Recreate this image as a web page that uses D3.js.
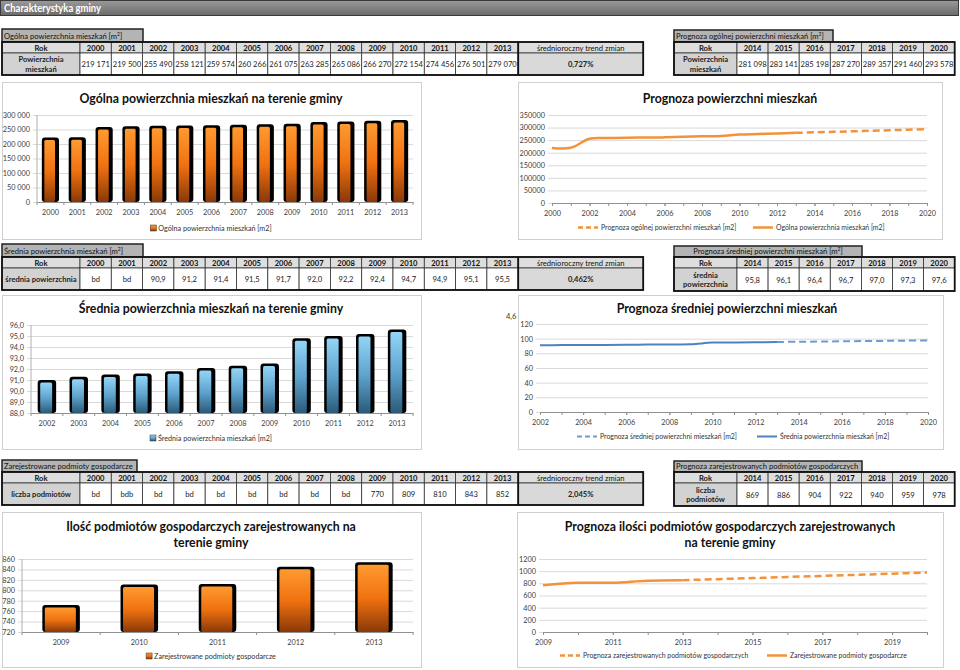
<!DOCTYPE html>
<html><head><meta charset="utf-8">
<script src="https://cdn.jsdelivr.net/npm/d3@7"></script>
<style>body{margin:0;background:#fff;} svg{display:block;font-family:Lato,'Open Sans',sans-serif;}</style>
</head><body><svg id="c" width="960" height="670"></svg>
<script>
// ---------- DATA ----------
const yearsHist = [2000,2001,2002,2003,2004,2005,2006,2007,2008,2009,2010,2011,2012,2013];
const yearsFc = [2014,2015,2016,2017,2018,2019,2020];
const areaVals = [219171,219500,255490,258121,259574,260266,261075,263285,265086,266270,272154,274456,276501,279070];
const areaFc = [281098,283141,285198,287270,289357,291460,293578];
const areaTrend = "0,727%";
const avgVals = ["bd","bd",90.9,91.2,91.4,91.5,91.7,92.0,92.2,92.4,94.7,94.9,95.1,95.5];
const avgFc = [95.8,96.1,96.4,96.7,97.0,97.3,97.6];
const avgTrend = "0,462%";
const firmVals = ["bd","bdb","bd","bd","bd","bd","bd","bd","bd",770,809,810,843,852];
const firmFc = [869,886,904,922,940,959,978];
const firmTrend = "2,045%";
const areaTicks = [0,50000,100000,150000,200000,250000,300000];
const areaTicks2 = [0,50000,100000,150000,200000,250000,300000,350000];
const avgTicks = [88,89,90,91,92,93,94,95,96];
const avgTicks2 = [0,20,40,60,80,100,120];
const firmTicks = [720,740,760,780,800,820,840,860];
const firmTicks2 = [0,200,400,600,800,1000,1200];

// ---------- HELPERS ----------
const FONT = "Lato,'Open Sans',sans-serif";
const svg = d3.select("#c");
const defs = svg.append("defs");
function grad(id, stops){
  const g = defs.append("linearGradient").attr("id",id).attr("x1",0).attr("x2",0).attr("y1",0).attr("y2",1);
  stops.forEach(s=>g.append("stop").attr("offset",s[0]).attr("stop-color",s[1]));
}
grad("gOr",[[0,"#ff9a30"],[0.5,"#f07210"],[1,"#8a3808"]]);
grad("gBl",[[0,"#92d5f6"],[0.5,"#5fa4cf"],[1,"#2b5a78"]]);
grad("gHead",[[0,"#9a9a9a"],[1,"#6a6a6a"]]);

const fmtSpace = d => d3.format(",")(d).replace(/,/g," ");
const fmtDec = d => d3.format(".1f")(d).replace(".",",");
const fmtPlain = d3.format("d");

// header bar
svg.append("rect").attr("x",0.5).attr("y",0.5).attr("width",958).attr("height",15).attr("fill","url(#gHead)").attr("stroke","#3a3a3a");
svg.append("text").attr("x",4).attr("y",12).attr("fill","#fff").attr("font-weight",700).attr("font-size",10.5)
  .attr("textLength",97).attr("lengthAdjust","spacingAndGlyphs").text("Charakterystyka gminy");

function drawTable(o){
  const g = svg.append("g");
  const fs = 7.6;
  g.append("rect").attr("x",o.x).attr("y",o.y).attr("width",o.titleW).attr("height",o.titleH)
    .attr("fill","#b4b4b4").attr("stroke","#222").attr("stroke-width",1.5);
  const t = g.append("text").attr("x",o.titleMid? o.x+o.titleW/2 : o.x+2).attr("y",o.y+o.titleH-3)
    .attr("text-anchor",o.titleMid?"middle":"start").attr("font-size",fs).attr("fill","#111").text(o.title);
  if(o.sup){
    t.append("tspan").text(" [m");
    t.append("tspan").attr("dy",-3).attr("font-size",5).text("2");
    t.append("tspan").attr("dy",3).text("]");
  }
  const y1 = o.y+o.titleH, y2 = y1+o.r1h, y3 = y2+o.r2h;
  const cols = [{x:o.x,w:o.labelW,h:"Rok",v:o.label,type:"label"}];
  o.years.forEach((yr,i)=>cols.push({x:o.x+o.labelW+i*o.colW,w:o.colW,h:String(yr),v:o.vals[i],type:"val"}));
  if(o.trend) cols.push({x:o.x+o.labelW+o.years.length*o.colW,w:o.trendW,h:"średnioroczny trend zmian",v:o.trend,type:"trend"});
  cols.forEach(c=>{
    g.append("rect").attr("x",c.x).attr("y",y1).attr("width",c.w).attr("height",o.r1h).attr("fill","#dedede").attr("stroke","#333").attr("stroke-width",0.8);
    g.append("rect").attr("x",c.x).attr("y",y2).attr("width",c.w).attr("height",o.r2h)
      .attr("fill",c.type==="val"?"#fff":(c.type==="label"?"#d2d2d2":"#d9d9d9")).attr("stroke","#333").attr("stroke-width",0.8);
    g.append("text").attr("x",c.x+c.w/2).attr("y",y1+o.r1h-2.5).attr("text-anchor","middle").attr("font-size",fs)
      .attr("font-weight",c.type==="trend"?400:700).attr("fill","#111").text(c.h);
    const lines = Array.isArray(c.v)?c.v:[c.v];
    lines.forEach((l,i)=>{
      g.append("text").attr("x",c.x+c.w/2).attr("y",y2+o.r2h/2+3+(i-(lines.length-1)/2)*9.5).attr("text-anchor","middle")
        .attr("font-size",fs).attr("font-weight",c.type==="val"?400:700).attr("fill","#222").text(l);
    });
  });
  const totalW = o.labelW+o.years.length*o.colW+(o.trend?o.trendW:0);
  g.append("rect").attr("x",o.x).attr("y",y1).attr("width",totalW).attr("height",y3-y1).attr("fill","none").attr("stroke","#111").attr("stroke-width",1.8);
  if(o.trend) g.append("line").attr("x1",o.x+totalW-o.trendW).attr("x2",o.x+totalW-o.trendW).attr("y1",y1).attr("y2",y3).attr("stroke","#111").attr("stroke-width",1.8);
}

function frame(x,y,w,h){
  svg.append("rect").attr("x",x+0.5).attr("y",y+0.5).attr("width",w).attr("height",h).attr("fill","#fff").attr("stroke","#cfcfcf");
}
function chartTitle(lines,cx,y){
  lines.forEach((l,i)=>svg.append("text").attr("x",cx).attr("y",y+i*16).attr("text-anchor","middle")
    .attr("font-size",12.3).attr("font-weight",700).attr("fill","#111").text(l));
}
function styleYAxis(g){
  g.select(".domain").remove();
  g.selectAll(".tick line").attr("stroke","#d9d9d9").attr("x1",-4);
  g.selectAll(".tick text").attr("font-size",7.3).attr("fill","#404040").attr("font-family",FONT).attr("x",-7);
}

function barChart(o){
  const x = d3.scaleBand().domain(o.cats).range([o.x0,o.x1]).paddingInner(o.pad).paddingOuter(o.pad/2);
  const y = d3.scaleLinear().domain([o.ticks[0],o.ticks[o.ticks.length-1]]).range([o.y1,o.y0]);
  const ga = svg.append("g").attr("transform",`translate(${o.x0},0)`)
    .call(d3.axisLeft(y).tickValues(o.ticks).tickSize(-(o.x1-o.x0)).tickFormat(o.fmt));
  styleYAxis(ga);
  svg.append("line").attr("x1",o.x0).attr("x2",o.x0).attr("y1",o.y0).attr("y2",o.y1).attr("stroke","#b0b0b0");
  const gx = svg.append("g").attr("transform",`translate(0,${o.y1})`).call(d3.axisBottom(x).tickSize(0).tickPadding(8));
  gx.select(".domain").attr("stroke","#909090");
  gx.selectAll(".tick text").attr("font-size",7.3).attr("fill","#404040").attr("font-family",FONT);
  svg.selectAll(null).data(d3.range(o.cats.length+1)).join("line")
    .attr("x1",i=>o.x0+i*(o.x1-o.x0)/o.cats.length).attr("x2",i=>o.x0+i*(o.x1-o.x0)/o.cats.length)
    .attr("y1",o.y1).attr("y2",o.y1+3).attr("stroke","#909090");
  const data = o.cats.map((c,i)=>({c,v:o.vals[i]}));
  const base = o.y1;
  svg.selectAll(null).data(data).join("rect")
    .attr("x",d=>x(d.c)).attr("y",d=>y(d.v)-1).attr("width",x.bandwidth()).attr("height",d=>base-y(d.v)+1)
    .attr("rx",3).attr("fill","#000");
  svg.selectAll(null).data(data).join("rect")
    .attr("x",d=>x(d.c)+2.5).attr("y",d=>y(d.v)+1.5).attr("width",x.bandwidth()-6.5).attr("height",d=>base-y(d.v)-1.5)
    .attr("rx",1.5).attr("fill",`url(#${o.grad})`);
  // legend
  const lg = svg.append("g");
  lg.append("rect").attr("x",0).attr("y",-6).attr("width",6).attr("height",6).attr("fill",`url(#${o.grad})`).attr("stroke","#333").attr("stroke-width",0.5);
  const lt = lg.append("text").attr("x",8).attr("y",0).attr("font-size",7.2).attr("fill","#333").text(o.legend);
  const w = 8+lt.node().getComputedTextLength();
  lg.attr("transform",`translate(${o.legCx-w/2},${o.legY})`);
}

function lineChart(o){
  const x = d3.scaleLinear().domain(o.xdom).range([o.x0,o.x1]);
  const y = d3.scaleLinear().domain([o.ticks[0],o.ticks[o.ticks.length-1]]).range([o.y1,o.y0]);
  const ga = svg.append("g").attr("transform",`translate(${o.x0},0)`)
    .call(d3.axisLeft(y).tickValues(o.ticks).tickSize(-(o.x1-o.x0)).tickFormat(fmtPlain));
  styleYAxis(ga);
  const minor = d3.range(o.xdom[0],o.xdom[1]+1);
  svg.append("g").attr("transform",`translate(0,${o.y1})`)
    .call(d3.axisBottom(x).tickValues(minor).tickSize(3).tickFormat(""))
    .call(g=>{g.select(".domain").attr("stroke","#909090");g.selectAll(".tick line").attr("stroke","#909090");});
  const gl = svg.append("g").attr("transform",`translate(0,${o.y1})`)
    .call(d3.axisBottom(x).tickValues(o.labels).tickSize(3).tickPadding(5).tickFormat(fmtPlain));
  gl.select(".domain").remove();
  gl.selectAll(".tick line").attr("stroke","#909090");
  gl.selectAll(".tick text").attr("font-size",7.3).attr("fill","#404040").attr("font-family",FONT);
  const line = d3.line().x(d=>x(d[0])).y(d=>y(d[1])).curve(d3.curveCatmullRom.alpha(0.5));
  svg.append("path").attr("d",line(o.fc)).attr("fill","none").attr("stroke",o.fcColor).attr("stroke-width",o.sw).attr("stroke-dasharray","7,4");
  svg.append("path").attr("d",line(o.hist)).attr("fill","none").attr("stroke",o.color).attr("stroke-width",o.sw);
  // legend
  svg.append("line").attr("x1",o.leg[0]).attr("x2",o.leg[0]+20).attr("y1",o.legY-2.5).attr("y2",o.legY-2.5).attr("stroke",o.fcColor).attr("stroke-width",o.sw).attr("stroke-dasharray","5,3");
  svg.append("text").attr("x",o.leg[0]+23).attr("y",o.legY).attr("font-size",6.9).attr("fill","#333").text(o.legTexts[0]);
  svg.append("line").attr("x1",o.leg[1]).attr("x2",o.leg[1]+20).attr("y1",o.legY-2.5).attr("y2",o.legY-2.5).attr("stroke",o.color).attr("stroke-width",o.sw);
  svg.append("text").attr("x",o.leg[1]+23).attr("y",o.legY).attr("font-size",6.9).attr("fill","#333").text(o.legTexts[1]);
}

// ---------- TABLES ----------
drawTable({x:2,y:29,titleW:141,titleH:13,title:"Ogólna powierzchnia mieszkań",sup:true,r1h:11,r2h:22,labelW:78,colW:31.3,trendW:125,
  years:yearsHist,vals:areaVals.map(fmtSpace),label:["Powierzchnia","mieszkań"],trend:areaTrend});
drawTable({x:674,y:30,titleW:159,titleH:12,title:"Prognoza ogólnej powierzchni mieszkań",sup:true,r1h:11,r2h:22,labelW:63,colW:31.1,
  years:yearsFc,vals:areaFc.map(fmtSpace),label:["Powierzchnia","mieszkań"]});
drawTable({x:2,y:244,titleW:141,titleH:13,title:"Średnia powierzchnia mieszkań ",sup:true,r1h:11,r2h:22,labelW:78,colW:31.3,trendW:125,
  years:yearsHist,vals:avgVals.map(v=>typeof v==="number"?fmtDec(v):v),label:["średnia powierzchnia"],trend:avgTrend});
drawTable({x:674,y:246,titleW:188,titleH:11,title:"Prognoza średniej powierzchni mieszkań ",sup:true,titleMid:true,r1h:11,r2h:23,labelW:63,colW:31.1,
  years:yearsFc,vals:avgFc.map(fmtDec),label:["średnia","powierzchnia"]});
drawTable({x:2,y:460,titleW:135,titleH:12,title:"Zarejestrowane podmioty gospodarcze",r1h:11,r2h:22,labelW:78,colW:31.3,trendW:125,
  years:yearsHist,vals:firmVals.map(String),label:["liczba podmiotów"],trend:firmTrend});
drawTable({x:674,y:461,titleW:188,titleH:11,title:"Prognoza zarejestrowanych podmiotów gospodarczych",r1h:11,r2h:23,labelW:63,colW:31.1,
  years:yearsFc,vals:firmFc.map(String),label:["liczba","podmiotów"]});

// ---------- CHARTS ----------
frame(2,82,419,157);
chartTitle(["Ogólna powierzchnia mieszkań na terenie gminy"],211,103);
barChart({cats:yearsHist,vals:areaVals,x0:37,x1:413,y0:115,y1:202,ticks:areaTicks,fmt:fmtSpace,pad:0.36,grad:"gOr",
  legend:"Ogólna powierzchnia mieszkań [m2]",legCx:211,legY:231});

frame(518,82,424,157);
chartTitle(["Prognoza powierzchni mieszkań"],730,103);
lineChart({xdom:[2000,2020],labels:d3.range(2000,2021,2),x0:552,x1:927,y0:115,y1:203,ticks:areaTicks2,
  hist:yearsHist.map((yr,i)=>[yr,areaVals[i]]),
  fc:[[2013,areaVals[13]]].concat(yearsFc.map((yr,i)=>[yr,areaFc[i]])),
  color:"#f3923a",fcColor:"#f3923a",sw:2.5,leg:[578,753],legY:230,
  legTexts:["Prognoza ogólnej powierzchni mieszkań [m2]","Ogólna powierzchnia mieszkań [m2]"]});

frame(2,295,419,154);
chartTitle(["Średnia powierzchnia mieszkań na terenie gminy"],211,313);
const avgCats = yearsHist.filter((y,i)=>typeof avgVals[i]==="number");
const avgNum = avgVals.filter(v=>typeof v==="number");
barChart({cats:avgCats,vals:avgNum,x0:31,x1:413,y0:325,y1:413,ticks:avgTicks,fmt:fmtDec,pad:0.42,grad:"gBl",
  legend:"Średnia powierzchnia mieszkań  [m2]",legCx:211,legY:441});

svg.append("text").attr("x",506).attr("y",319).attr("font-size",7.5).attr("fill","#333").text("4,6");
frame(518,295,425,154);
chartTitle(["Prognoza średniej powierzchni mieszkań"],727,313);
lineChart({xdom:[2002,2020],labels:d3.range(2002,2021,2),x0:540,x1:928,y0:324,y1:412,ticks:avgTicks2,
  hist:avgCats.map((yr,i)=>[yr,avgNum[i]]),
  fc:[[2013,avgNum[avgNum.length-1]]].concat(yearsFc.map((yr,i)=>[yr,avgFc[i]])),
  color:"#4f81bd",fcColor:"#6f9ad0",sw:2,leg:[577,757],legY:439,
  legTexts:["Prognoza średniej powierzchni mieszkań  [m2]","Średnia powierzchnia mieszkań  [m2]"]});

frame(2,512,419,155);
chartTitle(["Ilość podmiotów gospodarczych zarejestrowanych na","terenie gminy"],211,531);
const firmCats = yearsHist.filter((y,i)=>typeof firmVals[i]==="number");
const firmNum = firmVals.filter(v=>typeof v==="number");
barChart({cats:firmCats,vals:firmNum,x0:22,x1:413,y0:559,y1:632,ticks:firmTicks,fmt:d=>d,pad:0.52,grad:"gOr",
  legend:"Zarejestrowane podmioty gospodarcze",legCx:211,legY:659});

frame(517,512,426,155);
chartTitle(["Prognoza ilości podmiotów gospodarczych zarejestrowanych","na terenie gminy"],730,531);
lineChart({xdom:[2009,2020],labels:d3.range(2009,2020,2),x0:543,x1:927,y0:559,y1:632,ticks:firmTicks2,
  hist:firmCats.map((yr,i)=>[yr,firmNum[i]]),
  fc:[[2013,firmNum[firmNum.length-1]]].concat(yearsFc.map((yr,i)=>[yr,firmFc[i]])),
  color:"#f3923a",fcColor:"#f3923a",sw:2.5,leg:[560,767],legY:658,
  legTexts:["Prognoza zarejestrowanych podmiotów gospodarczych","Zarejestrowane podmioty gospodarcze"]});
</script></body></html>
